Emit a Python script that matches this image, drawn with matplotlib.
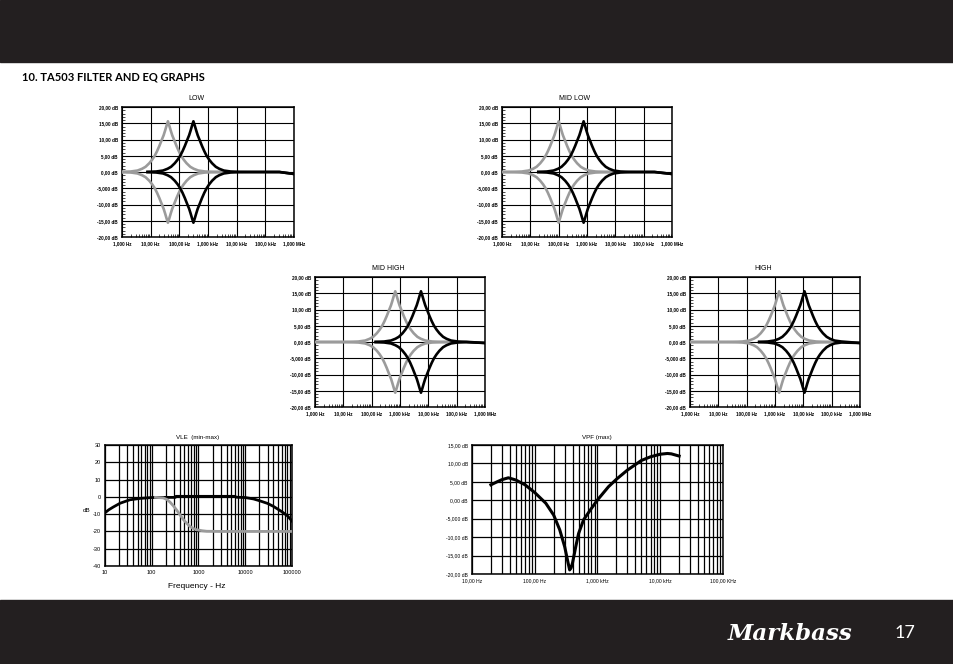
import numpy as np
import matplotlib
matplotlib.use("Agg")
import matplotlib.pyplot as plt
from matplotlib.patches import Rectangle
from matplotlib.ticker import LogLocator, MultipleLocator, NullFormatter

plt.rcParams['font.family'] = ['Liberation Sans', 'DejaVu Sans']
plt.rcParams['axes.unicode_minus'] = False

# ---- data ----
EQ_TITLES = ["LOW", "MID LOW", "MID HIGH", "HIGH"]
EQ_GRAY_CENTER_HZ = [40, 100, 680, 1400]
EQ_BLACK_CENTER_HZ = [310, 760, 5500, 11000]
EQ_END_DB = [-0.6, -0.6, -0.3, -0.3]          # black curve level at 1 MHz

# boost shape of one band (decades away from centre -> dB), cut is the mirror
PEAK_OFFSET_DEC = [0, 0.05, 0.1, 0.15, 0.21, 0.3, 0.38, 0.46, 0.55, 0.65, 0.78, 0.9, 1.06, 1.3, 1.6, 2.0, 2.5, 3.0]
PEAK_DB = [15.6, 14.2, 12.7, 11.3, 10.0, 8.0, 6.4, 5.0, 3.8, 2.7, 1.6, 1.0, 0.45, 0.15, 0.05, 0.0, 0.0, 0.0]

EQ_XTICK_HZ = [1, 10, 100, 1e3, 1e4, 1e5, 1e6]
EQ_XTICK_LABELS = ["1,000 Hz", "10,00 Hz", "100,00 Hz", "1,000 kHz", "10,00 kHz", "100,0 kHz", "1,000 MHz"]
EQ_YTICK_DB = [20, 15, 10, 5, 0, -5, -10, -15, -20]
EQ_YTICK_LABELS = ["20,00 dB", "15,00 dB", "10,00 dB", "5,00 dB", "0,00 dB", "-5,000 dB", "-10,00 dB", "-15,00 dB", "-20,00 dB"]

VLE_MAX_HZ = [10, 12, 15, 21, 34, 56, 100, 200, 320, 330, 1000, 6000, 6500, 10000, 15000, 20000, 30000, 40000, 60000, 80000, 100000]
VLE_MAX_DB = [-9.2, -7.5, -5.9, -3.7, -1.7, -0.9, -0.4, -0.3, -0.3, 0.3, 0.3, 0.3, -0.2, -0.4, -1.2, -2.2, -3.8, -5.5, -8.5, -11.0, -14.0]
VLE_MIN_HZ = [120, 176, 210, 245, 290, 340, 400, 470, 560, 650, 800, 900, 1200, 1500, 3000, 100000]
VLE_MIN_DB = [-0.3, -0.6, -1.5, -3.0, -5.2, -7.6, -10.3, -13.0, -15.3, -17.0, -18.5, -19.0, -19.6, -19.9, -20.0, -20.0]
VLE_XTICK_LABELS = ["10", "100", "1000", "10000", "100000"]

VPF_HZ = [20, 25, 30, 38, 50, 70, 100, 150, 200, 250, 300, 340, 360, 380, 400, 450, 500, 600, 800,
          1000, 1500, 2000, 3000, 5000, 7000, 10000, 13000, 15000, 20000]
VPF_DB = [4.2, 5.0, 5.6, 6.1, 5.5, 4.2, 2.1, -0.8, -4.0, -8.0, -12.6, -17.0, -18.9, -18.3, -17.0, -12.6, -9.0, -5.3, -2.2,
          0.1, 3.7, 5.7, 8.2, 10.8, 11.8, 12.5, 12.7, 12.6, 12.0]
VPF_XTICK_LABELS = ["10,00 Hz", "100,00 Hz", "1,000 kHz", "10,00 kHz", "100,00 KHz"]
VPF_YTICK_DB = [15, 10, 5, 0, -5, -10, -15, -20]
VPF_YTICK_LABELS = ["15,00 dB", "10,00 dB", "5,00 dB", "0,00 dB", "-5,000 dB", "-10,00 dB", "-15,00 dB", "-20,00 dB"]

# ---- layout (pixel boxes: left, top, right, bottom) ----
W, H = 954, 664
EQ_BOXES = [(122, 107, 294, 237), (502, 107, 672, 237), (315, 277, 485, 407), (690, 277, 860, 407)]
VLE_BOX = (105, 445, 292, 566)
VPF_BOX = (472, 445, 723, 574)
DARK = '#231f20'
GRAY = '#9b9b9b'

fig = plt.figure(figsize=(W / 100, H / 100), dpi=100)
fig.patches.append(Rectangle((0, 1 - 62 / H), 1, 62 / H, transform=fig.transFigure, color=DARK, zorder=0))
fig.patches.append(Rectangle((0, 0), 1, 64 / H, transform=fig.transFigure, color=DARK, zorder=0))


def px_axes(l, t, r, b):
    return fig.add_axes([l / W, 1 - b / H, (r - l) / W, (b - t) / H])


def px_text(x, y, s, **kw):
    kw.setdefault('ha', 'center')
    kw.setdefault('va', 'center')
    return fig.text(x / W, 1 - y / H, s, **kw)


def style_frame(ax):
    for sp in ax.spines.values():
        sp.set_linewidth(1.1)
        sp.set_color('black')


off = np.array(PEAK_OFFSET_DEC)
db = np.array(PEAK_DB)
full_off = np.concatenate([-off[::-1], off[1:]])
full_db = np.concatenate([db[::-1], db[1:]])

for box, title, gc, bc, end_db in zip(EQ_BOXES, EQ_TITLES, EQ_GRAY_CENTER_HZ, EQ_BLACK_CENTER_HZ, EQ_END_DB):
    ax = px_axes(*box)
    # gray band (lower setting)
    gx = gc * 10 ** full_off
    keep = (gx > 1) & (gx <= gc * 10 ** 2.4)
    gx = np.concatenate([[1], gx[keep]])
    gy = np.concatenate([[0], full_db[keep]])
    # black band (higher setting)
    bx = bc * 10 ** full_off
    keep = (full_off >= -1.6) & (bx < 10 ** 5.5)
    bx = np.concatenate([bx[keep], [1e6]])
    by = full_db[keep]
    for sign in (1, -1):
        ax.plot(gx, sign * gy, color=GRAY, lw=1.9, zorder=3)
    for sign in (1, -1):
        ax.plot(bx, np.concatenate([sign * by, [end_db]]), color='black', lw=1.9, zorder=4)

    ax.set_xscale('log')
    ax.set_xlim(1, 1e6)
    ax.set_ylim(-20, 20)
    ax.set_xticks(EQ_XTICK_HZ)
    ax.set_xticklabels(EQ_XTICK_LABELS)
    ax.set_yticks(EQ_YTICK_DB)
    ax.set_yticklabels(EQ_YTICK_LABELS)
    ax.xaxis.set_minor_locator(LogLocator(base=10, subs=np.arange(2, 10)))
    ax.xaxis.set_minor_formatter(NullFormatter())
    ax.yaxis.set_minor_locator(MultipleLocator(1))
    ax.tick_params(which='major', length=0, pad=3, labelsize=3.3)
    ax.tick_params(which='minor', direction='in', length=2, width=0.5)
    for lbl in ax.get_xticklabels() + ax.get_yticklabels():
        lbl.set_fontweight('bold')
    ax.grid(which='major', color='black', lw=0.8)
    ax.set_axisbelow(True)
    style_frame(ax)
    px_text((box[0] + box[2]) / 2 - 12, box[1] - 9, title, fontsize=5)

# VLE (min-max)
ax = px_axes(*VLE_BOX)
ax.plot(VLE_MAX_HZ, VLE_MAX_DB, color='black', lw=2.0, zorder=3)
ax.plot(VLE_MIN_HZ, VLE_MIN_DB, color=GRAY, lw=2.0, zorder=4)
ax.set_xscale('log')
ax.set_xlim(10, 1e5)
ax.set_ylim(-40, 30)
ax.set_xticks([10, 100, 1000, 10000, 100000])
ax.set_xticklabels(VLE_XTICK_LABELS)
ax.xaxis.set_minor_locator(LogLocator(base=10, subs=np.arange(2, 10)))
ax.xaxis.set_minor_formatter(NullFormatter())
ax.set_yticks(range(-40, 31, 10))
ax.tick_params(which='both', length=0, pad=3, labelsize=4)
ax.grid(which='both', axis='x', color='black', lw=0.9)
ax.grid(which='major', axis='y', color='black', lw=0.9)
ax.set_axisbelow(True)
style_frame(ax)
px_text(198, 437, "VLE  (min-max)", fontsize=4.5)
px_text(197, 586, "Frequency - Hz", fontsize=6)
px_text(87, 510, "dB", fontsize=4.5)

# VPF (max)
ax = px_axes(*VPF_BOX)
ax.plot(VPF_HZ, VPF_DB, color='black', lw=2.2, zorder=3)
ax.set_xscale('log')
ax.set_xlim(10, 1e5)
ax.set_ylim(-20, 15)
ax.set_xticks([10, 100, 1000, 10000, 100000])
ax.set_xticklabels(VPF_XTICK_LABELS)
ax.xaxis.set_minor_locator(LogLocator(base=10, subs=np.arange(2, 10)))
ax.xaxis.set_minor_formatter(NullFormatter())
ax.set_yticks(VPF_YTICK_DB)
ax.set_yticklabels(VPF_YTICK_LABELS)
ax.tick_params(which='both', length=0, pad=3, labelsize=3.6)
ax.grid(which='both', axis='x', color='black', lw=0.9)
ax.grid(which='major', axis='y', color='black', lw=0.9)
ax.set_axisbelow(True)
style_frame(ax)
px_text(597, 437, "VPF (max)", fontsize=4.5)

# page header / footer
px_text(22, 77, "10. TA503 FILTER AND EQ GRAPHS", ha='left', fontsize=8, fontweight='bold', family='Lato')
px_text(790, 634, "Markbass", fontsize=16.5, color='white', family='DejaVu Serif', fontweight='bold', style='italic')
px_text(905, 633, "17", fontsize=13, color='white', family='Lato')

fig.savefig("out.png", dpi=100)
